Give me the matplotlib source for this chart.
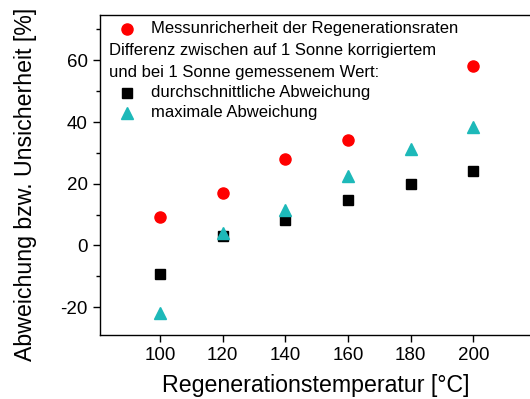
import numpy as np
import matplotlib
matplotlib.use("Agg")
import matplotlib.pyplot as plt
from matplotlib.ticker import MultipleLocator

plt.rcParams['font.family'] = ['Liberation Sans', 'DejaVu Sans']
plt.rcParams['axes.unicode_minus'] = False

# Regenerationstemperatur in °C
temp_mess = [100, 120, 140, 160, 200]
unsicherheit = [9.3, 17.0, 28.1, 34.1, 58.2]

temp_diff = [100, 120, 140, 160, 180, 200]
mittel_abw = [-9.4, 3.2, 8.3, 14.7, 19.8, 24.1]
max_abw = [-21.8, 4.0, 11.4, 22.4, 31.2, 38.4]

x_ticks = [100, 120, 140, 160, 180, 200]
y_ticks = [-20, 0, 20, 40, 60]

red = '#FF0000'
teal = '#1DB9B9'

fig = plt.figure(figsize=(5.30, 3.99), dpi=100)
ax = fig.add_axes([100 / 530, 1 - 334.5 / 399, 1 - 100 / 530, (334.5 - 15) / 399])

ax.plot(temp_mess, unsicherheit, 'o', color=red, ms=8, mec=red, ls='none')
ax.plot(temp_diff, mittel_abw, 's', color='black', ms=6.5, ls='none')
ax.plot(temp_diff, max_abw, '^', color=teal, ms=9, mec=teal, ls='none')

ax.set_xlim(80.85, 218.1)
ax.set_ylim(-28.9, 74.7)
ax.set_xticks(x_ticks)
ax.set_yticks(y_ticks)
ax.yaxis.set_minor_locator(MultipleLocator(10))
ax.spines['right'].set_visible(False)
for s in ['left', 'bottom', 'top']:
    ax.spines[s].set_linewidth(1.0)
ax.tick_params(axis='both', which='major', direction='out', length=5, width=1,
               labelsize=13.5, pad=4)
ax.tick_params(axis='y', which='minor', direction='out', length=3, width=1)
ax.tick_params(top=False, right=False)

ax.set_xlabel('Regenerationstemperatur [°C]', fontsize=16.7)
ax.set_ylabel('Abweichung bzw. Unsicherheit [%]', fontsize=16.7)
ax.xaxis.set_label_coords(0.502, -0.124)
ax.yaxis.set_label_coords(-0.1465, 0.471)

# Legende von Hand gesetzt
px = lambda x: (x - 100) / 430
py = lambda y: (334.5 - y) / 319.5
fs = 12
ax.plot(px(127), py(29), 'o', color=red, ms=8, transform=ax.transAxes, clip_on=False)
ax.text(px(151), py(29), 'Messunricherheit der Regenerationsraten', fontsize=fs,
        va='center', transform=ax.transAxes)
ax.text(px(109), py(50), 'Differenz zwischen auf 1 Sonne korrigiertem', fontsize=fs,
        va='center', transform=ax.transAxes)
ax.text(px(109), py(72), 'und bei 1 Sonne gemessenem Wert:', fontsize=fs,
        va='center', transform=ax.transAxes)
ax.plot(px(127), py(93), 's', color='black', ms=6.5, transform=ax.transAxes, clip_on=False)
ax.text(px(151), py(93), 'durchschnittliche Abweichung', fontsize=fs,
        va='center', transform=ax.transAxes)
ax.plot(px(127), py(113), '^', color=teal, ms=9, transform=ax.transAxes, clip_on=False)
ax.text(px(151), py(113), 'maximale Abweichung', fontsize=fs,
        va='center', transform=ax.transAxes)

fig.savefig('out.png', dpi=100)
